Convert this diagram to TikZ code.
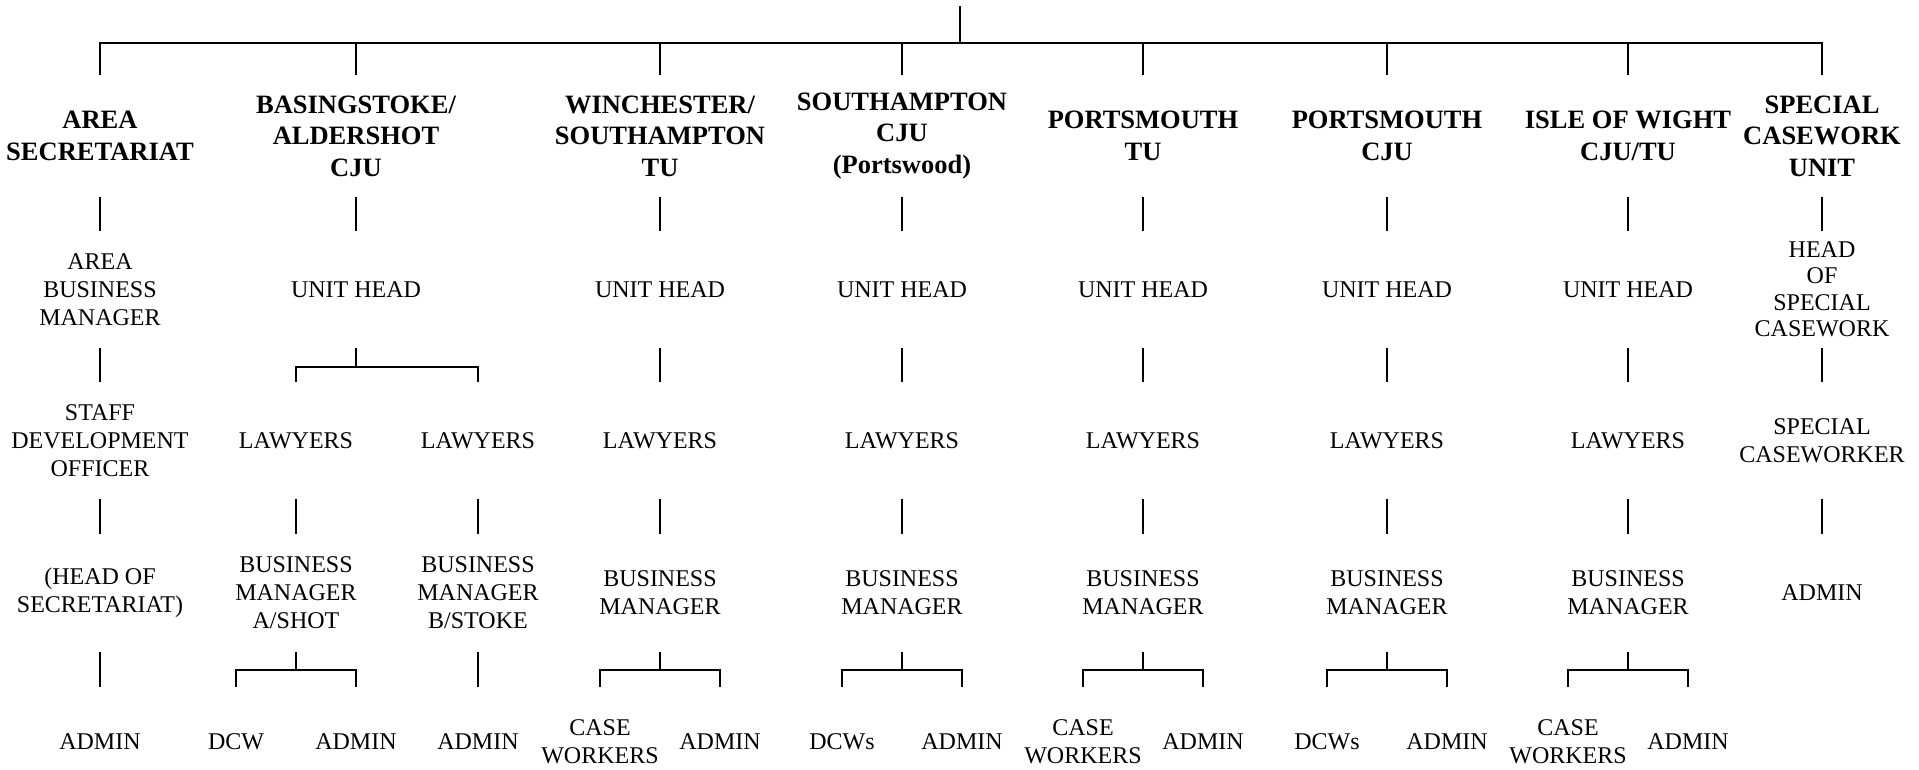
\documentclass[tikz,border=0pt]{standalone}
\usepackage{fontspec}
\setmainfont{Liberation Serif}
\usepackage{tikz}

\begin{document}
\begin{tikzpicture}
	[x=1pt,y=-1pt,line width=2.2pt,
	every node/.style={align=center,inner sep=0pt,font=\fontsize{24}{28}\selectfont},
	head/.style={font=\fontsize{26.5}{31.5}\selectfont\bfseries,minimum height=120pt},
	post/.style={minimum height=115pt},
	leaf/.style={minimum height=107pt}]
	\useasboundingbox (0,0) rectangle (1919,770);
	
	\coordinate (top) at (960,6);
	\coordinate (bar) at (960,43);
	
	% units
	\node[head] (h1) at (100,136) {AREA\\SECRETARIAT};
	\node[head] (h2) at (356,136) {BASINGSTOKE/\\ALDERSHOT\\CJU};
	\node[head] (h3) at (660,136) {WINCHESTER/\\SOUTHAMPTON\\TU};
	\node[head] (h4) at (902,136) {SOUTHAMPTON\\CJU\\(Portswood)};
	\node[head] (h5) at (1143,136) {PORTSMOUTH\\TU};
	\node[head] (h6) at (1387,136) {PORTSMOUTH\\CJU};
	\node[head] (h7) at (1628,136) {ISLE OF WIGHT\\CJU/TU};
	\node[head] (h8) at (1822,136) {SPECIAL\\CASEWORK\\UNIT};
	
	% heads
	\node[post] (u1) at (100,289.5) {AREA\\BUSINESS\\MANAGER};
	\node[post] (u2) at (356,289.5) {UNIT HEAD};
	\node[post] (u3) at (660,289.5) {UNIT HEAD};
	\node[post] (u4) at (902,289.5) {UNIT HEAD};
	\node[post] (u5) at (1143,289.5) {UNIT HEAD};
	\node[post] (u6) at (1387,289.5) {UNIT HEAD};
	\node[post] (u7) at (1628,289.5) {UNIT HEAD};
	\node[post,font=\fontsize{24}{26.5}\selectfont] (u8) at (1822,289.5) {HEAD\\OF\\SPECIAL\\CASEWORK};
	
	% lawyers
	\node[post] (l1) at (100,440.5) {STAFF\\DEVELOPMENT\\OFFICER};
	\node[post] (l2a) at (296,440.5) {LAWYERS};
	\node[post] (l2b) at (478,440.5) {LAWYERS};
	\node[post] (l3) at (660,440.5) {LAWYERS};
	\node[post] (l4) at (902,440.5) {LAWYERS};
	\node[post] (l5) at (1143,440.5) {LAWYERS};
	\node[post] (l6) at (1387,440.5) {LAWYERS};
	\node[post] (l7) at (1628,440.5) {LAWYERS};
	\node[post] (l8) at (1822,440.5) {SPECIAL\\CASEWORKER};
	
	% business managers
	\node[post] (b1) at (100,593) {(HEAD OF\\SECRETARIAT)};
	\node[post] (b2a) at (296,593) {BUSINESS\\MANAGER\\A/SHOT};
	\node[post] (b2b) at (478,593) {BUSINESS\\MANAGER\\B/STOKE};
	\node[post] (b3) at (660,593) {BUSINESS\\MANAGER};
	\node[post] (b4) at (902,593) {BUSINESS\\MANAGER};
	\node[post] (b5) at (1143,593) {BUSINESS\\MANAGER};
	\node[post] (b6) at (1387,593) {BUSINESS\\MANAGER};
	\node[post] (b7) at (1628,593) {BUSINESS\\MANAGER};
	\node[post] (b8) at (1822,593) {ADMIN};
	
	% staff
	\node[leaf] (a1) at (100,741.5) {ADMIN};
	\node[leaf] (d2) at (236,741.5) {DCW};
	\node[leaf] (a2a) at (356,741.5) {ADMIN};
	\node[leaf] (a2b) at (478,741.5) {ADMIN};
	\node[leaf] (c3) at (600,741.5) {CASE\\WORKERS};
	\node[leaf] (a3) at (720,741.5) {ADMIN};
	\node[leaf] (d4) at (842,741.5) {DCWs};
	\node[leaf] (a4) at (962,741.5) {ADMIN};
	\node[leaf] (c5) at (1083,741.5) {CASE\\WORKERS};
	\node[leaf] (a5) at (1203,741.5) {ADMIN};
	\node[leaf] (d6) at (1327,741.5) {DCWs};
	\node[leaf] (a6) at (1447,741.5) {ADMIN};
	\node[leaf] (c7) at (1568,741.5) {CASE\\WORKERS};
	\node[leaf] (a7) at (1688,741.5) {ADMIN};
	
	\draw (top) -- (bar);
	\foreach \to in {h1,h2,h3,h4,h5,h6,h7,h8}
	\draw (bar) -| (\to.north);
	
	\foreach \from/\to in {h1/u1,h2/u2,h3/u3,h4/u4,h5/u5,h6/u6,h7/u7,h8/u8,
		u1/l1,u3/l3,u4/l4,u5/l5,u6/l6,u7/l7,u8/l8,
		l1/b1,l2a/b2a,l2b/b2b,l3/b3,l4/b4,l5/b5,l6/b6,l7/b7,l8/b8,
		b1/a1,b2b/a2b}
	\draw (\from) -- (\to);
	
	\foreach \from/\to in {u2/l2a,u2/l2b,b2a/d2,b2a/a2a,b3/c3,b3/a3,b4/d4,b4/a4,
		b5/c5,b5/a5,b6/d6,b6/a6,b7/c7,b7/a7}
	\draw (\from.south) -- ++(0,18.5) -| (\to.north);
\end{tikzpicture}
\end{document}
